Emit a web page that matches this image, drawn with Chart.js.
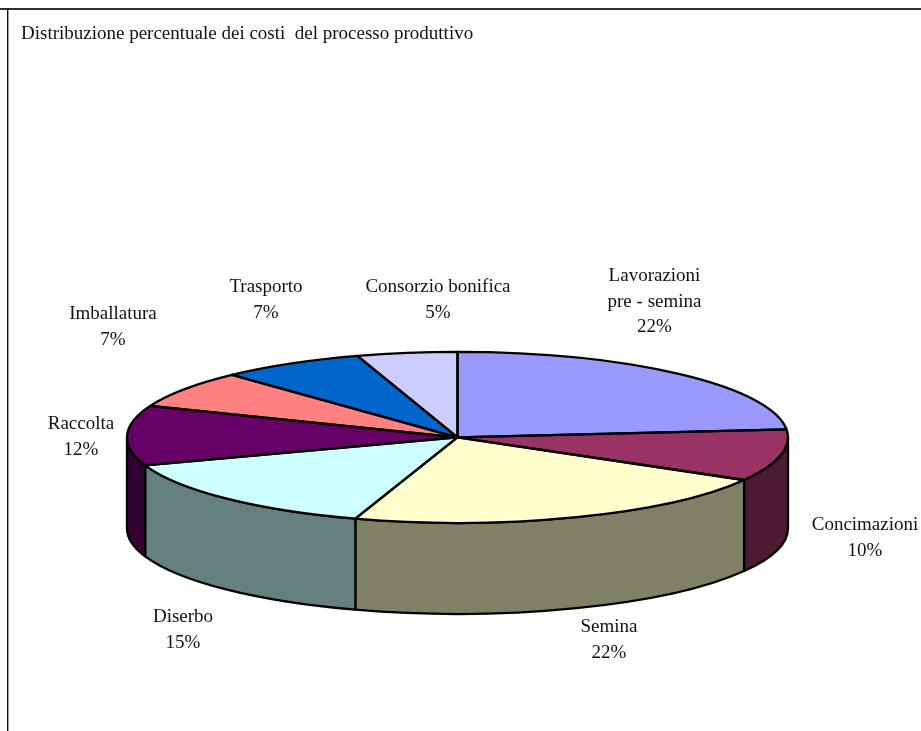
<!DOCTYPE html>
<html>
<head>
<meta charset="utf-8">
<title>Distribuzione percentuale dei costi</title>
<script src="https://cdn.jsdelivr.net/npm/chart.js@4/dist/chart.umd.min.js"></script>
<style>
html, body { margin: 0; padding: 0; background: #fff; overflow: hidden; }
canvas { display: block; }
</style>
</head>
<body>
<canvas id="costi" width="921" height="731"></canvas>
<script>
const titolo = 'Distribuzione percentuale dei costi  del processo produttivo'
const categorie = ['Lavorazioni|pre - semina', 'Concimazioni', 'Semina', 'Diserbo', 'Raccolta', 'Imballatura', 'Trasporto', 'Consorzio bonifica']
// slice sizes measured on the drawn pie, the printed percentages are below
const quote = [23.5, 9.8, 21.7, 14.7, 11.3, 7.05, 7.05, 4.9]
const etichette = ['22%', '10%', '22%', '15%', '12%', '7%', '7%', '5%']
const colori = ['#9999ff', '#993366', '#ffffcc', '#ccffff', '#660066', '#ff8080', '#0066cc', '#ccccff']
const coloriLato = ['#4d4d80', '#4d1a33', '#808066', '#668080', '#330033', '#804040', '#003366', '#666680']

// where each label block is centred: x, and y of the first line
const posEtichette = [[654.5, 276], [865, 525], [609, 627], [183, 617], [81, 424], [113, 314], [266, 287], [438, 287]]
const SCHIACCIA = 85.5 / 330.5
const SPESSORE = 91

const torta3d = {
    id: 'torta3d',
    beforeDraw(chart) {
        const c = chart.ctx
        c.save()
        c.fillStyle = '#fff'
        c.fillRect(0, 0, chart.width, chart.height)
        c.fillStyle = '#333'
        c.fillRect(0, 8, 921, 2)
        c.fillStyle = '#111'
        c.fillRect(7, 8, 1.4, 723)
        c.restore()
    },
    beforeDatasetsDraw(chart) {
        const c = chart.ctx
        const archi = chart.getDatasetMeta(0).data
        c.save()
        c.lineWidth = 2.3
        c.strokeStyle = '#000'
        c.lineJoin = 'round'
        // side wall, only the part of each slice that faces front
        archi.forEach((a, i) => {
            const da = Math.max(a.startAngle, 0)
            const al = Math.min(a.endAngle, Math.PI)
            if (al <= da) return
            const ry = a.outerRadius * SCHIACCIA
            c.beginPath()
            c.ellipse(a.x, a.y, a.outerRadius, ry, 0, da, al)
            c.ellipse(a.x, a.y + SPESSORE, a.outerRadius, ry, 0, al, da, true)
            c.closePath()
            c.fillStyle = coloriLato[i]
            c.fill()
            c.stroke()
        })
        c.restore()
        // squash the library's circular arcs into the top ellipse
        const a0 = archi[0]
        c.save()
        c.translate(a0.x, a0.y)
        c.scale(1, SCHIACCIA)
        c.translate(-a0.x, -a0.y)
    },
    afterDatasetsDraw(chart) {
        const c = chart.ctx
        c.restore()
        c.save()
        c.lineWidth = 2.3
        c.strokeStyle = '#000'
        c.lineJoin = 'round'
        chart.getDatasetMeta(0).data.forEach(a => {
            const ry = a.outerRadius * SCHIACCIA
            c.beginPath()
            c.moveTo(a.x, a.y)
            c.ellipse(a.x, a.y, a.outerRadius, ry, 0, a.startAngle, a.endAngle)
            c.closePath()
            c.stroke()
        })
        c.font = '19px "Liberation Serif"'
        c.fillStyle = '#111'
        c.textAlign = 'center'
        c.textBaseline = 'middle'
        categorie.forEach((nome, i) => {
            const righe = nome.split('|').concat(etichette[i])
            righe.forEach((r, j) => c.fillText(r, posEtichette[i][0], posEtichette[i][1] + j * 25.7))
        })
        c.restore()
    }
}

new Chart(document.querySelector('#costi').getContext('2d'), {
    type: 'pie',
    data: {
        labels: categorie,
        datasets: [{
            data: quote,
            backgroundColor: colori,
            borderWidth: 0,
            clip: false,
        }],
    },
    options: {
        responsive: false,
        devicePixelRatio: 1,
        animation: false,
        radius: 330.5,
        layout: { padding: { left: 21, right: 27, top: 23, bottom: 0 } },
        plugins: {
            legend: { display: false },
            tooltip: { enabled: false },
            title: {
                display: true,
                text: titolo,
                align: 'start',
                color: '#111',
                font: { family: '"Liberation Serif"', size: 19, weight: 'normal', lineHeight: 1.2 },
                padding: { top: 0, bottom: 98 },
            },
        },
    },
    plugins: [torta3d],
})
</script>
</body>
</html>
